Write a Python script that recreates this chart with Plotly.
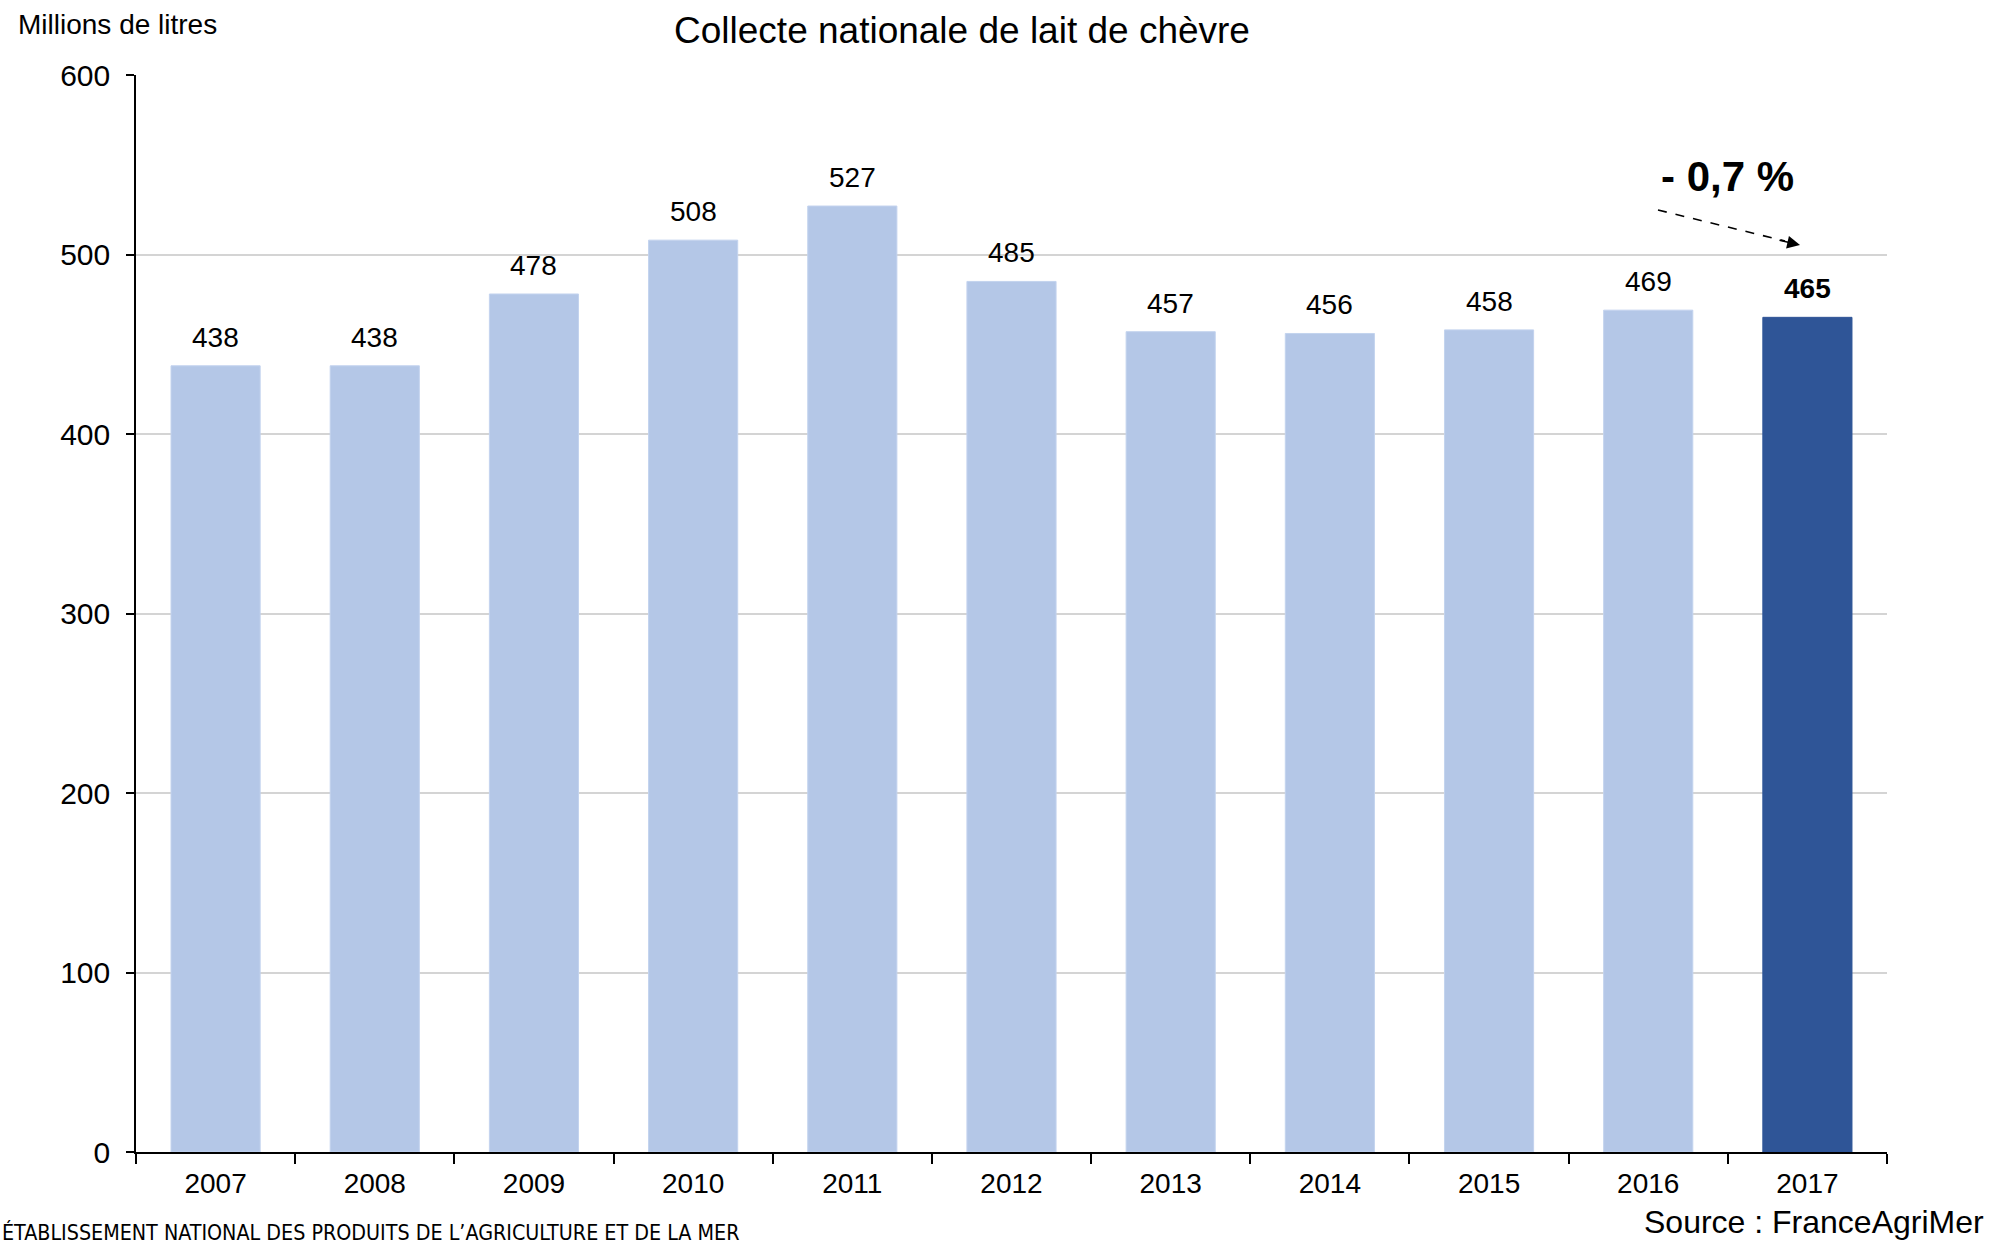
import plotly.graph_objects as go

years = ["2007", "2008", "2009", "2010", "2011", "2012", "2013", "2014", "2015", "2016", "2017"]
values = [438, 438, 478, 508, 527, 485, 457, 456, 458, 469, 465]
highlight = [False] * 10 + [True]
y_ticks = [0, 100, 200, 300, 400, 500, 600]

LIGHT = "#b4c7e7"
DARK = "#2f5597"
FONT = "Arial, Liberation Sans, sans-serif"

W, H = 1990, 1245
L, R, T, B = 136, 103, 75, 93
pw, ph = W - L - R, H - T - B

def px_x(p):
    return (p - L) / pw

def px_y(p):
    return (H - B - p) / ph

fig = go.Figure()
fig.add_trace(go.Bar(
    x=years, y=values,
    marker=dict(color=[DARK if h else LIGHT for h in highlight],
                line=dict(color=["#2f5597" if h else "#c3d3ee" for h in highlight], width=1)),
    width=0.56,
    hoverinfo="x+y",
))

annotations = []
for i, (v, h) in enumerate(zip(values, highlight)):
    annotations.append(dict(
        x=i, y=v, xref="x", yref="y", text=f"<b>{v}</b>" if h else str(v),
        showarrow=False, yanchor="bottom", yshift=11,
        font=dict(family=FONT, size=28, color="#000"),
    ))

annotations += [
    dict(x=px_x(16), y=px_y(25), xref="paper", yref="paper", xanchor="left", yanchor="middle",
         text="Millions de litres", showarrow=False, font=dict(family=FONT, size=28, color="#000")),
    dict(x=px_x(1727), y=px_y(176), xref="paper", yref="paper", xanchor="center", yanchor="middle",
         text="<b>- 0,7 %</b>", showarrow=False, font=dict(family=FONT, size=42, color="#000")),
    dict(x=px_x(1800), y=px_y(245), xref="paper", yref="paper", ax=-22, ay=-5,
         text="", showarrow=True, arrowhead=2, arrowsize=1.6, arrowwidth=1.6, arrowcolor="#000"),
    dict(x=px_x(0), y=px_y(1232), xref="paper", yref="paper", xanchor="left", yanchor="middle",
         text="ÉTABLISSEMENT NATIONAL DES PRODUITS DE L’AGRICULTURE ET DE LA MER", showarrow=False,
         font=dict(family="Liberation Sans Narrow, DejaVu Sans Condensed, sans-serif", size=21.3, color="#000")),
    dict(x=px_x(1986), y=px_y(1222), xref="paper", yref="paper", xanchor="right", yanchor="middle",
         text="Source : FranceAgriMer", showarrow=False, font=dict(family=FONT, size=32, color="#000")),
]

shapes = [dict(type="line", xref="paper", yref="paper",
               x0=px_x(1658), y0=px_y(210), x1=px_x(1785), y1=px_y(241),
               line=dict(color="#000", width=1.6, dash="dash"))]

fig.update_layout(
    width=W, height=H,
    margin=dict(l=L, r=R, t=T, b=B, pad=0),
    paper_bgcolor="white", plot_bgcolor="white",
    showlegend=False,
    title=dict(text="Collecte nationale de lait de chèvre", x=962 / W, xanchor="center",
               y=1 - 30 / H, yanchor="middle", font=dict(family=FONT, size=37, color="#000")),
    xaxis=dict(type="category", range=[-0.5, len(years) - 0.5], autorange=False,
               showline=True, linecolor="#000", linewidth=1.5,
               ticks="outside", tickson="boundaries", ticklen=10, tickcolor="#000", tickwidth=1.5,
               ticklabelstandoff=6,
               tickfont=dict(family=FONT, size=28, color="#000"), showgrid=False),
    yaxis=dict(range=[0, 600], tickvals=y_ticks, showline=True, linecolor="#000", linewidth=1.5,
               ticks="outside", ticklen=8, tickcolor="#000", tickwidth=1.5,
               ticklabelstandoff=10,
               tickfont=dict(family=FONT, size=30, color="#000"),
               showgrid=True, gridcolor="#d4d4d4", gridwidth=1.5, zeroline=False),
    annotations=annotations,
    shapes=shapes,
)

fig.write_html("out.html", config={"displayModeBar": False},
               post_script="document.body.style.margin='0';")
